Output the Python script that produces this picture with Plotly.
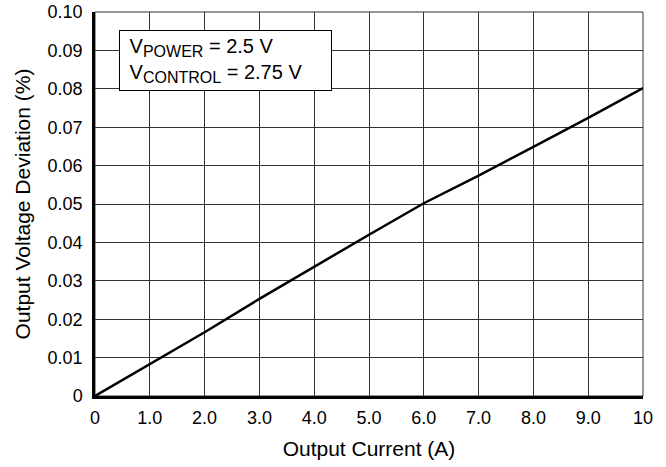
import plotly.graph_objects as go

current = [0, 1.0, 2.0, 3.0, 4.0, 5.0, 6.0, 7.0, 8.0, 9.0, 10.0]
deviation = [0, 0.0083, 0.0166, 0.0253, 0.0337, 0.0420, 0.0502, 0.0574, 0.0649, 0.0724, 0.0802]

x_ticks = [0, 1, 2, 3, 4, 5, 6, 7, 8, 9, 10]
x_ticktext = ["0", "1.0", "2.0", "3.0", "4.0", "5.0", "6.0", "7.0", "8.0", "9.0", "10"]
y_ticks = [0, 0.01, 0.02, 0.03, 0.04, 0.05, 0.06, 0.07, 0.08, 0.09, 0.10]
y_ticktext = ["0", "0.01", "0.02", "0.03", "0.04", "0.05", "0.06", "0.07", "0.08", "0.09", "0.10"]

FONT = "Liberation Sans, Arial, sans-serif"

fig = go.Figure()
fig.add_trace(go.Scatter(x=current, y=deviation, mode="lines",
                         line=dict(color="black", width=2.5), showlegend=False))

fig.update_layout(
    width=666, height=467,
    margin=dict(l=95, r=23, t=12, b=71),
    paper_bgcolor="white", plot_bgcolor="white",
    font=dict(family=FONT, size=17.5, color="black"),
    xaxis=dict(range=[0, 10], tickvals=x_ticks, ticktext=x_ticktext,
               showgrid=True, gridcolor="#333333", gridwidth=1,
               showline=True, linecolor="black", linewidth=2.5,
               zeroline=False, ticks="", ticklabelstandoff=4, automargin=False,
               ticklabeloverflow="allow",
               tickfont=dict(family=FONT, size=18, color="black"),
               title=dict(text="Output Current (A)", standoff=14)),
    yaxis=dict(range=[0, 0.10], tickvals=y_ticks, ticktext=y_ticktext,
               showgrid=True, gridcolor="#333333", gridwidth=1,
               showline=True, linecolor="black", linewidth=2.5,
               zeroline=False, ticks="", ticklabelstandoff=6, automargin=False,
               ticklabeloverflow="allow",
               tickfont=dict(family=FONT, size=18, color="black"),
               title=dict(text="Output Voltage Deviation (%)", standoff=12)),
)

fig.add_shape(type="rect", xref="paper", yref="paper", x0=0, y0=0, x1=1, y1=1,
              line=dict(color="#333333", width=1), layer="below")

fig.add_annotation(
    x=0.44, y=0.0952, xref="x", yref="y", xanchor="left", yanchor="top",
    text=("&nbsp;V<sub><span style='font-size:16px'>POWER</span></sub> = 2.5 V<br>"
          "&nbsp;V<sub><span style='font-size:16px'>CONTROL</span></sub> = 2.75 V"),
    showarrow=False, align="left", bgcolor="white",
    width=203, height=51,
    bordercolor="black", borderwidth=1, borderpad=4,
    font=dict(family=FONT, size=20, color="black"),
)

fig.write_html("out.html", config={"displayModeBar": False},
               post_script="document.body.style.margin='0px';")
